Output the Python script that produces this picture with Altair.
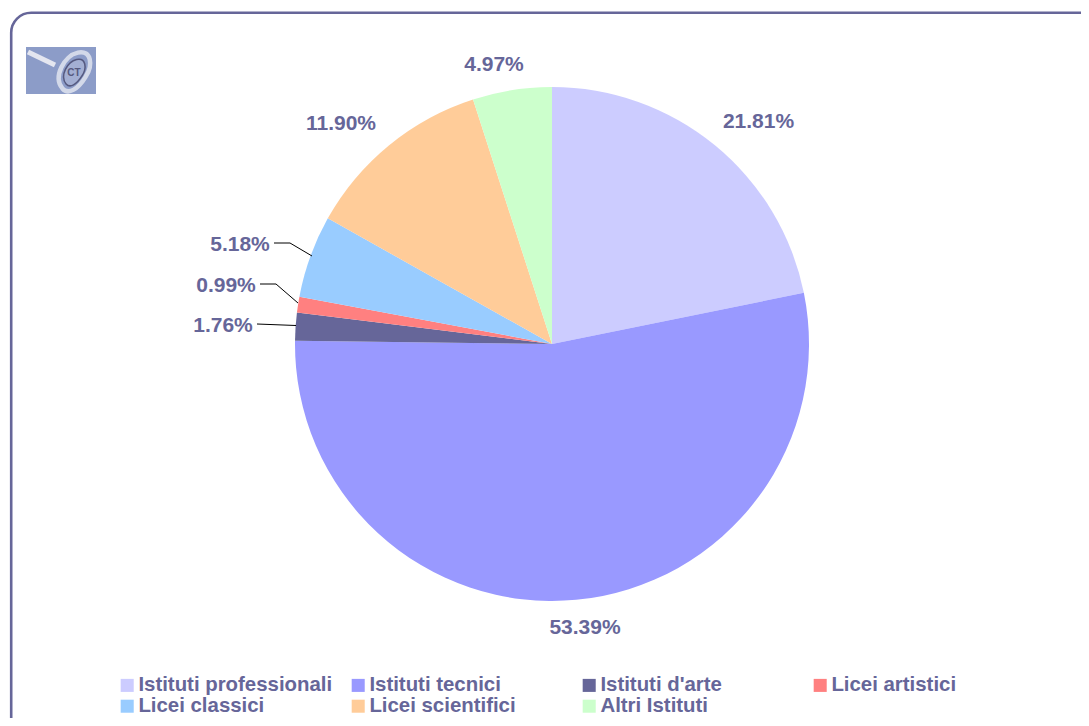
import altair as alt
import pandas as pd

categories = ["Istituti professionali", "Istituti tecnici", "Istituti d'arte", "Licei artistici",
              "Licei classici", "Licei scientifici", "Altri Istituti"]
values = [21.81, 53.39, 1.76, 0.99, 5.18, 11.90, 4.97]
colors = ["#CCCCFF", "#9999FF", "#666699", "#FF8080", "#99CCFF", "#FFCC99", "#CCFFCC"]
labels = ["21.81%", "53.39%", "1.76%", "0.99%", "5.18%", "11.90%", "4.97%"]
legend_order = [0, 4, 1, 5, 2, 6, 3]

df = pd.DataFrame({"cat": categories, "val": values, "idx": list(range(7)), "label": labels})

INK = "#666699"
FONT = "Liberation Sans"
OX, OY = 8, 8
W, H = 1073, 710


def px(x, y):
    return {"x": alt.value(x - OX), "y": alt.value(y - OY)}


def one():
    return alt.Chart(pd.DataFrame({"a": [0]}))


frame = one().mark_rect(fill="white", stroke=INK, strokeWidth=2.6, cornerRadius=20).encode(
    x=alt.value(11.2 - OX), x2=alt.value(1200), y=alt.value(12.8 - OY), y2=alt.value(900))

pie = alt.Chart(df).mark_arc(outerRadius=257).encode(
    theta=alt.Theta("val:Q", stack=True, scale=alt.Scale(domain=[0, 100], range=[0, 6.283185307])),
    order=alt.Order("idx:Q"),
    color=alt.Color("cat:N",
                    scale=alt.Scale(domain=[categories[i] for i in legend_order],
                                    range=[colors[i] for i in legend_order]),
                    legend=alt.Legend(title=None, orient="none", legendX=117 - OX, legendY=675 - OY,
                                      columns=4, gridAlign="all", symbolType="square", symbolSize=170,
                                      symbolStrokeWidth=0, symbolOffset=0, labelFont=FONT, labelFontSize=20.4,
                                      labelFontWeight="bold", labelColor=INK, labelOffset=1, columnPadding=15,
                                      rowPadding=0, labelLimit=300, padding=0)),
    x=alt.value(552 - OX), y=alt.value(344 - OY),
)

label_pos = {"21.81%": (758.5, 122), "53.39%": (585, 628), "1.76%": (223, 326), "0.99%": (226, 286),
             "5.18%": (240, 245), "11.90%": (341, 124), "4.97%": (494, 65)}
texts = []
for lab, (x, y) in label_pos.items():
    texts.append(alt.Chart(df).transform_filter(alt.datum.label == lab).mark_text(
        font=FONT, fontSize=21, fontWeight="bold", color=INK, align="center", baseline="middle"
    ).encode(text="label:N", **px(x, y)))

segments = [((274, 243), (290, 243)), ((290, 243), (312, 256)),
            ((260, 284), (276, 284)), ((276, 284), (298, 303)),
            ((257, 324), (296, 325.5))]
leaders = [one().mark_rule(color="black", strokeWidth=1).encode(
    x=alt.value(a[0] - OX), y=alt.value(a[1] - OY), x2=alt.value(b[0] - OX), y2=alt.value(b[1] - OY))
    for a, b in segments]

logo_bg = one().mark_rect(color="#8C9CC8").encode(
    x=alt.value(26 - OX), x2=alt.value(96 - OX), y=alt.value(47 - OY), y2=alt.value(94 - OY))
handle = one().mark_rule(color="#E4E6F0", strokeWidth=5).encode(
    x=alt.value(28 - OX), y=alt.value(52 - OY), x2=alt.value(55 - OX), y2=alt.value(65 - OY))
ELL = "M -0.6 0.9 C -1.1 0.3 -0.5 -0.8 0.2 -0.95 C 0.9 -1.1 1.0 -0.3 0.6 0.3 C 0.2 0.95 -0.3 1.25 -0.6 0.9 Z"
ring1 = one().mark_point(shape=ELL, size=1500, filled=False, stroke="#F2F3F8", strokeWidth=4.5).encode(**px(74, 71))
ring2 = one().mark_point(shape=ELL, size=700, filled=True, fill="#A3AFD3", stroke="#55597F",
                         strokeWidth=1.5, opacity=1).encode(**px(74, 72))
ct = one().mark_text(text="CT", font=FONT, fontSize=10, fontWeight="bold", color="#55597F").encode(**px(74, 73))

chart = alt.layer(frame, pie, *leaders, *texts, logo_bg, handle, ring1, ring2, ct).properties(
    width=W, height=H, padding=0, autosize=alt.AutoSizeParams(type="none")
).configure_view(stroke=None)

chart.save("out.html", embed_options={"renderer": "svg", "actions": False})
